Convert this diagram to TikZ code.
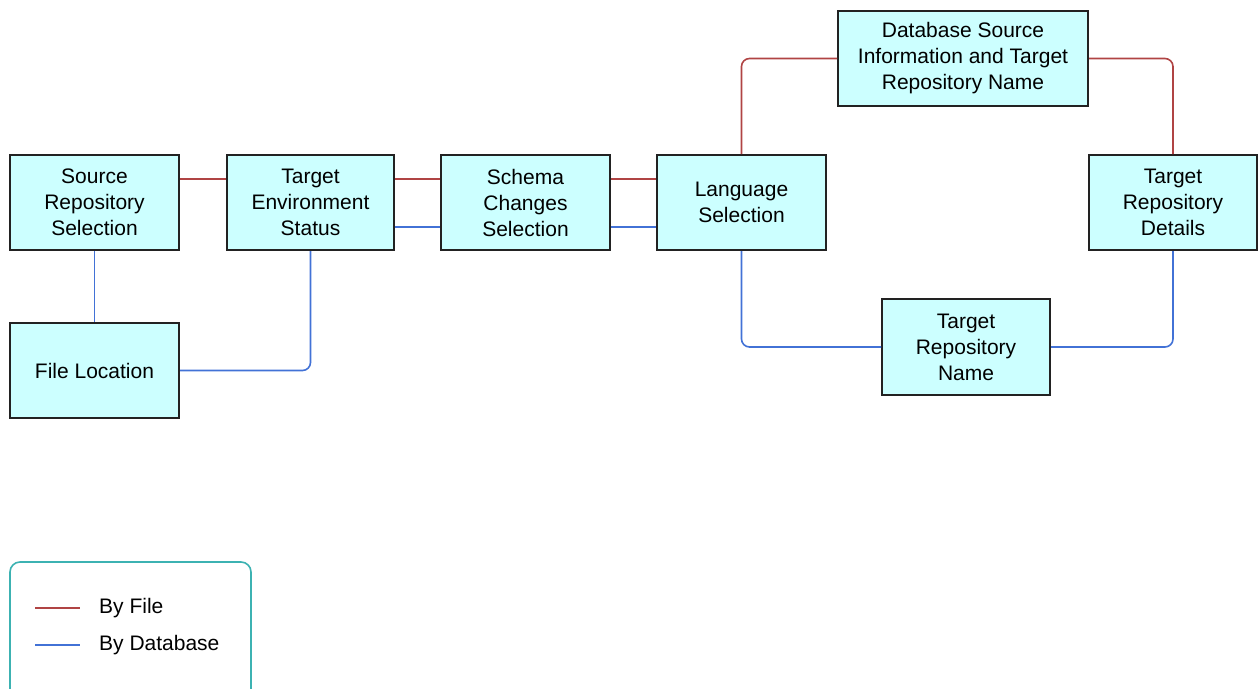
\documentclass[tikz,border=0pt]{standalone}
\usepackage{fontspec}
\setmainfont{Liberation Sans}
\usepackage{tikz}
\usetikzlibrary{positioning, calc}
\usepackage{xcolor}
\definecolor{boxfill}{RGB}{204, 255, 255}
\definecolor{boxline}{RGB}{34, 34, 34}
\definecolor{fileline}{RGB}{176, 68, 68}
\definecolor{dbline}{RGB}{66, 114, 214}
\definecolor{legendline}{RGB}{60, 178, 178}

\begin{document}
\begin{tikzpicture}[
    x=1pt, y=-1pt,
    stepbox/.style={rectangle, draw=boxline, fill=boxfill, line width=2pt, minimum width=169pt, minimum height=95pt, align=center, inner sep=2pt, font=\fontsize{21}{26}\selectfont},
    byfile/.style={draw=fileline, line width=1.6pt, rounded corners=8pt},
    bydb/.style={draw=dbline, line width=1.6pt, rounded corners=8pt},
    legendtext/.style={anchor=west, inner sep=0pt, font=\fontsize{21}{26}\selectfont}
]
    \useasboundingbox (0,0) rectangle (1258,688);

    % Boxes
    \node[stepbox] (src) at (94.5,202.5) {Source\\Repository\\Selection};
    \node[stepbox, minimum width=167pt] (env) at (310.5,202.5) {Target\\Environment\\Status};
    \node[stepbox] (schema) at (525.5,202.5) {Schema\\Changes\\Selection};
    \node[stepbox] (lang) at (741.5,202.5) {Language\\Selection};
    \node[stepbox, minimum width=250pt] (dbsrc) at (963,58.5) {Database Source\\Information and Target\\Repository Name};
    \node[stepbox, minimum width=168pt] (details) at (1173,202.5) {Target\\Repository\\Details};
    \node[stepbox, minimum width=168pt, minimum height=96pt] (tname) at (966,347) {Target\\Repository\\Name};
    \node[stepbox] (fileloc) at (94.5,370.5) {File Location};

    % By File
    \draw[byfile] ([yshift=23.5pt]src.east) -- ([yshift=23.5pt]env.west);
    \draw[byfile] ([yshift=23.5pt]env.east) -- ([yshift=23.5pt]schema.west);
    \draw[byfile] ([yshift=23.5pt]schema.east) -- ([yshift=23.5pt]lang.west);
    \draw[byfile] (lang.north) |- (dbsrc.west);
    \draw[byfile] (dbsrc.east) -| (details.north);

    % By Database
    \draw[bydb] ([yshift=-24.5pt]env.east) -- ([yshift=-24.5pt]schema.west);
    \draw[bydb] ([yshift=-24.5pt]schema.east) -- ([yshift=-24.5pt]lang.west);
    \draw[bydb] (src.south) -- (fileloc.north);
    \draw[bydb] (fileloc.east) -| (env.south);
    \draw[bydb] (lang.south) |- (tname.west);
    \draw[bydb] (tname.east) -| (details.south);

    % Legend
    \draw[draw=legendline, line width=1.6pt, rounded corners=10pt] (10,700) -- (10,562) -- (251,562) -- (251,700);
    \coordinate (fa) at (35,608);
    \coordinate (fb) at (80,608);
    \coordinate (da) at (35,645);
    \coordinate (db) at (80,645);
    \draw[byfile] (fa) -- (fb);
    \draw[bydb] (da) -- (db);
    \node[legendtext] (filetxt) at (99,608) {By File};
    \node[legendtext] (dbtxt) at (99,645) {By Database};
\end{tikzpicture}
\end{document}
